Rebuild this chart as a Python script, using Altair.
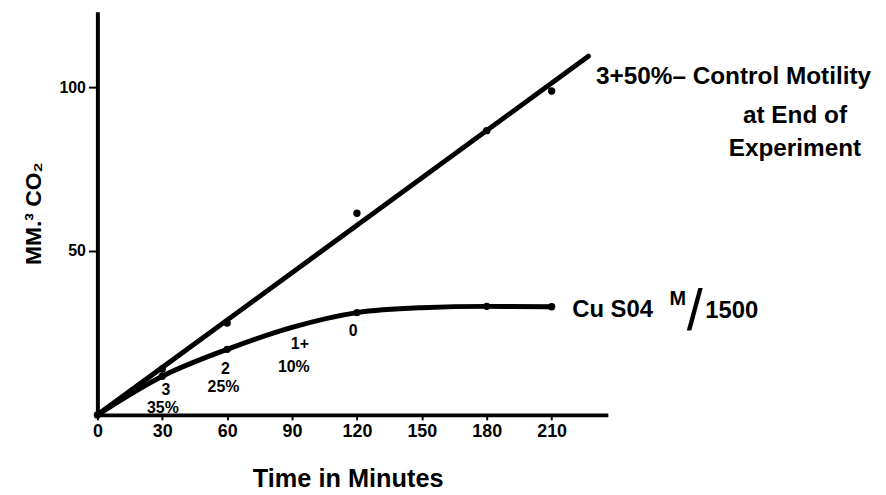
import altair as alt
import pandas as pd

FONT = "Liberation Sans, Arial, sans-serif"

# Control
ctrl_t = [30, 60, 120, 180, 210]
ctrl_v = [14.0, 28.0, 61.5, 86.7, 98.8]
# Control fitted straight line
ctrl_line_t = [0, 227]
ctrl_line_v = [0, 109.4]

# CuSO4 M/1500 curve
cu_t = [0, 30, 60, 90, 120, 150, 180, 210]
cu_v = [0, 11.8, 20.0, 26.7, 31.2, 32.7, 33.1, 33.0]
cu_dot_t = [0, 30, 60, 120, 180, 210]
cu_dot_v = [0, 11.8, 20.0, 31.2, 33.1, 33.0]

# motility annotations under CuSO4 curve
ann_text = ["3", "35%", "2", "25%", "1+", "10%", "0"]
ann_t = [31.7, 30.3, 59.2, 58.3, 93.6, 90.8, 118.3]
ann_v = [7.7, 2.2, 13.9, 8.5, 21.5, 14.5, 25.5]

# right-hand labels
lab_text = ["3+50%\u2013 Control Motility"]
lab_t = [230.5]
lab_v = [100.9]

cu_text = ["Cu S04", "1500"]
cu_lab_t = [219.5, 281.0]
cu_lab_v = [30.0, 29.7]

sup_text = ["M"]
sup_t = [264.5]
sup_v = [33.6]

lab2_text = ["at End of", "Experiment"]
lab2_t = [322.5, 322.5]
lab2_v = [89.1, 79.1]

slash_text = ["/"]
slash_t = [272.5]
slash_v = [26.0]

x_ticks = [0, 30, 60, 90, 120, 150, 180, 210]
y_ticks = [50, 100]

xs = alt.Scale(domain=[0, 236], nice=False, zero=False)
ys = alt.Scale(domain=[0, 123], nice=False, zero=False)

xaxis = alt.Axis(values=x_ticks, title="Time in Minutes", grid=False, labelFlush=False,
                 domainColor="black", domainWidth=4, tickColor="black", tickWidth=2,
                 tickSize=5, labelFont=FONT, labelFontSize=18, labelFontWeight="bold",
                 labelColor="black", labelPadding=3, titleFont=FONT, titleFontSize=25.5,
                 titleFontWeight="bold", titleColor="black", titleX=252, titleY=72,
                 titleBaseline="alphabetic", titleAnchor="middle", titleAlign="center")
yaxis = alt.Axis(values=y_ticks, title="MM.\u00b3 CO\u2082", grid=False, labelFlush=False,
                 domainColor="black", domainWidth=4, tickColor="black", tickWidth=2,
                 tickSize=9, labelFont=FONT, labelFontSize=16, labelFontWeight="bold",
                 labelColor="black", labelPadding=3, titleFont=FONT, titleFontSize=23,
                 titleFontWeight="bold", titleColor="black", titleX=-64, titleY=203,
                 titleBaseline="middle", titleAlign="center", titleAngle=-90)

ctrl_line_df = pd.DataFrame({"t": ctrl_line_t, "v": ctrl_line_v})
ctrl_df = pd.DataFrame({"t": ctrl_t, "v": ctrl_v})
cu_df = pd.DataFrame({"t": cu_t, "v": cu_v})
cu_dot_df = pd.DataFrame({"t": cu_dot_t, "v": cu_dot_v})
ann_df = pd.DataFrame({"t": ann_t, "v": ann_v, "s": ann_text})
lab_df = pd.DataFrame({"t": lab_t, "v": lab_v, "s": lab_text})
cu_lab_df = pd.DataFrame({"t": cu_lab_t, "v": cu_lab_v, "s": cu_text})
sup_df = pd.DataFrame({"t": sup_t, "v": sup_v, "s": sup_text})
lab2_df = pd.DataFrame({"t": lab2_t, "v": lab2_v, "s": lab2_text})
slash_df = pd.DataFrame({"t": slash_t, "v": slash_v, "s": slash_text})

base_x = alt.X("t:Q", scale=xs, axis=xaxis)
base_y = alt.Y("v:Q", scale=ys, axis=yaxis)

l_ctrl = alt.Chart(ctrl_line_df).mark_line(color="black", strokeWidth=5, strokeCap="round").encode(x=base_x, y=base_y)
p_ctrl = alt.Chart(ctrl_df).mark_circle(color="black", size=55, opacity=1).encode(x="t:Q", y="v:Q")
l_cu = alt.Chart(cu_df).mark_line(color="black", strokeWidth=5, interpolate="monotone", strokeCap="round").encode(x="t:Q", y="v:Q")
p_cu = alt.Chart(cu_dot_df).mark_circle(color="black", size=55, opacity=1).encode(x="t:Q", y="v:Q")

t_ann = alt.Chart(ann_df).mark_text(font=FONT, fontSize=16, fontWeight="bold", color="black",
                                    align="center", baseline="middle").encode(x="t:Q", y="v:Q", text="s:N")
t_lab = alt.Chart(lab_df).mark_text(font=FONT, fontSize=24.5, fontWeight="bold", color="black",
                                    align="left", baseline="alphabetic").encode(x="t:Q", y="v:Q", text="s:N")
t_cu = alt.Chart(cu_lab_df).mark_text(font=FONT, fontSize=24, fontWeight="bold", color="black",
                                      align="left", baseline="alphabetic").encode(x="t:Q", y="v:Q", text="s:N")
t_sup = alt.Chart(sup_df).mark_text(font=FONT, fontSize=20, fontWeight="bold", color="black",
                                    align="left", baseline="alphabetic").encode(x="t:Q", y="v:Q", text="s:N")
t_lab2 = alt.Chart(lab2_df).mark_text(font=FONT, fontSize=24.5, fontWeight="bold", color="black",
                                      align="center", baseline="alphabetic").encode(x="t:Q", y="v:Q", text="s:N")
t_slash = alt.Chart(slash_df).mark_text(font=FONT, fontSize=58, fontWeight="normal", color="black",
                                        align="left", baseline="alphabetic").encode(x="t:Q", y="v:Q", text="s:N")

chart = alt.layer(l_ctrl, p_ctrl, l_cu, p_cu, t_ann, t_lab, t_cu, t_sup, t_lab2, t_slash).properties(
    width=514, height=406,
    autosize=alt.AutoSizeParams(type="none"),
    padding={"left": 90, "top": 2, "right": 272, "bottom": 80},
    background="white",
).configure_view(stroke=None)

chart.save("out.html", embed_options={"renderer": "svg", "actions": False})
